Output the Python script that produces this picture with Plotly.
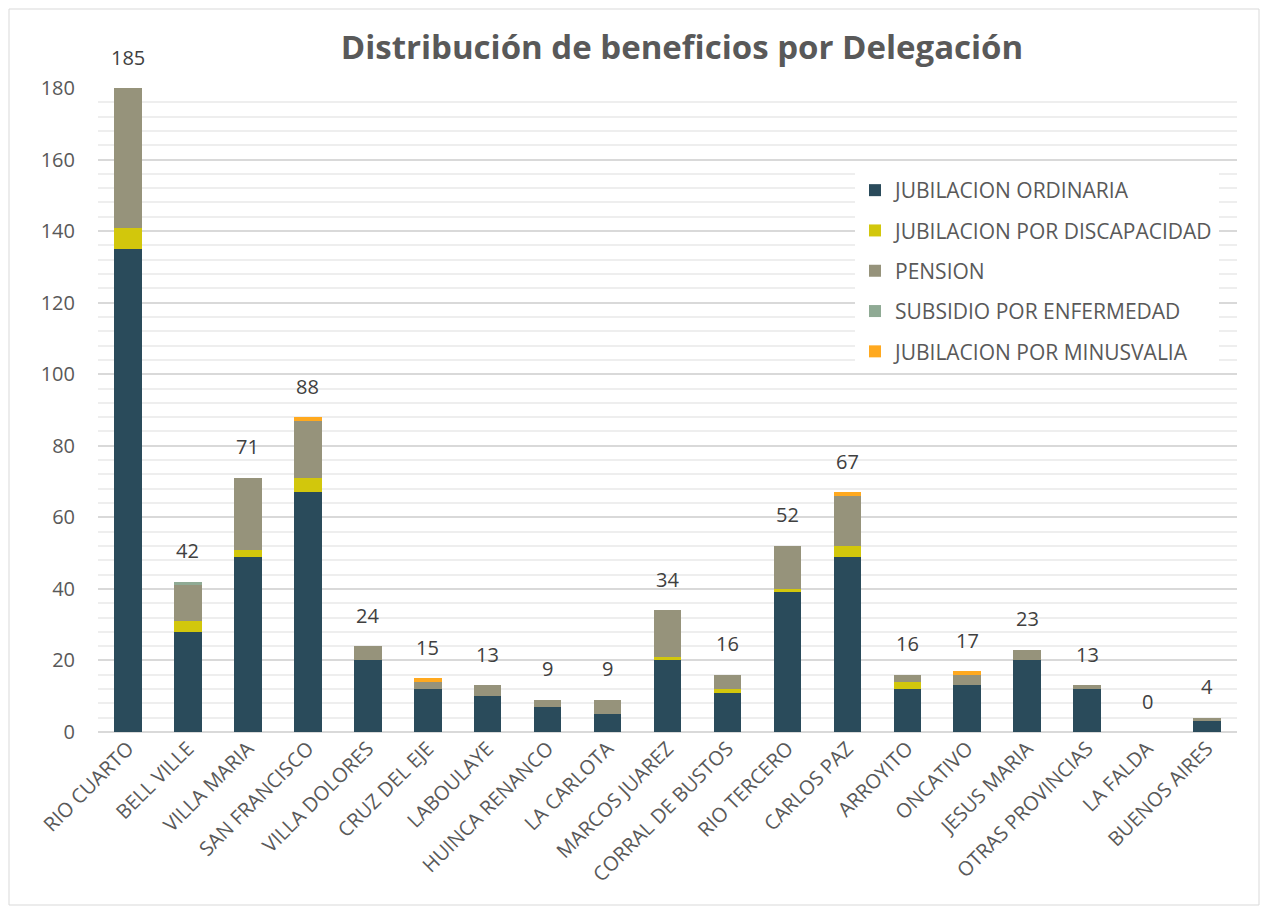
import plotly.graph_objects as go

categories = ["RIO CUARTO", "BELL VILLE", "VILLA MARIA", "SAN FRANCISCO", "VILLA DOLORES",
              "CRUZ DEL EJE", "LABOULAYE", "HUINCA RENANCO", "LA CARLOTA", "MARCOS JUAREZ",
              "CORRAL DE BUSTOS", "RIO TERCERO", "CARLOS PAZ", "ARROYITO", "ONCATIVO",
              "JESUS MARIA", "OTRAS PROVINCIAS", "LA FALDA", "BUENOS AIRES"]

jubilacion_ordinaria = [135, 28, 49, 67, 20, 12, 10, 7, 5, 20, 11, 39, 49, 12, 13, 20, 12, 0, 3]
jubilacion_discapacidad = [6, 3, 2, 4, 0, 0, 0, 0, 0, 1, 1, 1, 3, 2, 0, 0, 0, 0, 0]
pension = [44, 10, 20, 16, 4, 2, 3, 2, 4, 13, 4, 12, 14, 2, 3, 3, 1, 0, 1]
subsidio_enfermedad = [0, 1, 0, 0, 0, 0, 0, 0, 0, 0, 0, 0, 0, 0, 0, 0, 0, 0, 0]
jubilacion_minusvalia = [0, 0, 0, 1, 0, 1, 0, 0, 0, 0, 0, 0, 1, 0, 1, 0, 0, 0, 0]
totals = [185, 42, 71, 88, 24, 15, 13, 9, 9, 34, 16, 52, 67, 16, 17, 23, 13, 0, 4]

series = [
    ("JUBILACION ORDINARIA", jubilacion_ordinaria, "#2A4B5B"),
    ("JUBILACION POR DISCAPACIDAD", jubilacion_discapacidad, "#D2C70C"),
    ("PENSION", pension, "#96937B"),
    ("SUBSIDIO POR ENFERMEDAD", subsidio_enfermedad, "#8FAA94"),
    ("JUBILACION POR MINUSVALIA", jubilacion_minusvalia, "#FFA91F"),
]

Y_MAX = 180
FONT = "Open Sans"
GREY = "#595959"

fig = go.Figure()
for i, (name, vals, color) in enumerate(series):
    fig.add_trace(go.Bar(
        x=categories, y=vals, name=name, legendgroup=f"g{i}",
        marker=dict(color=color, line=dict(width=0)),
        hoverinfo="x+y+name",
    ))

for cat, tot in zip(categories, totals):
    fig.add_annotation(x=cat, y=min(tot, Y_MAX), text=str(tot), showarrow=False,
                       yshift=31, font=dict(family=FONT, size=20, color="#404040"))

# page offset of 8px (default body margin)
OFF = 8
W, H = 1252, 899
ML, MR, MT, MB = 98 - OFF, 1268 - 1237 - OFF, 88 - OFF, H - (732 - OFF)
pw, ph = W - ML - MR, H - MT - MB

def px_x(p):
    return (p - OFF - ML) / pw

def px_y(p):
    return (H - MB - (p - OFF)) / ph

fig.add_shape(type="rect", xref="paper", yref="paper",
              x0=px_x(9), x1=px_x(1259), y0=px_y(905), y1=px_y(9),
              line=dict(color="#D9D9D9", width=1), fillcolor="rgba(0,0,0,0)", layer="below")

fig.update_layout(
    width=W, height=H,
    margin=dict(l=ML, r=MR, t=MT, b=MB),
    paper_bgcolor="white", plot_bgcolor="white",
    barmode="stack", bargap=0.54,
    title=dict(text="<b>Distribución de beneficios por Delegación</b>",
               x=px_x(682), xanchor="center", xref="paper", y=1 - (47 - OFF) / H, yanchor="middle",
               font=dict(family=FONT, size=33, color=GREY)),
    font=dict(family=FONT, color=GREY),
    legend=dict(x=px_x(855), y=px_y(170), xanchor="left", yanchor="top",
                bgcolor="white", borderwidth=0, tracegroupgap=10,
                font=dict(family=FONT, size=21, color=GREY),
                itemwidth=30, traceorder="grouped"),
    xaxis=dict(tickangle=-45, tickfont=dict(family=FONT, size=20, color=GREY),
               showgrid=False, showline=False, ticks=""),
    yaxis=dict(range=[0, Y_MAX], dtick=20, tickfont=dict(family=FONT, size=20, color=GREY),
               showgrid=True, gridcolor="#D9D9D9", gridwidth=2,
               minor=dict(dtick=4, showgrid=True, gridcolor="#EEEEEE", gridwidth=2),
               zeroline=True, zerolinecolor="#D9D9D9", zerolinewidth=2,
               showline=False, ticks="", ticklabelstandoff=22),
    showlegend=True,
)

fig.write_html("out.html")
